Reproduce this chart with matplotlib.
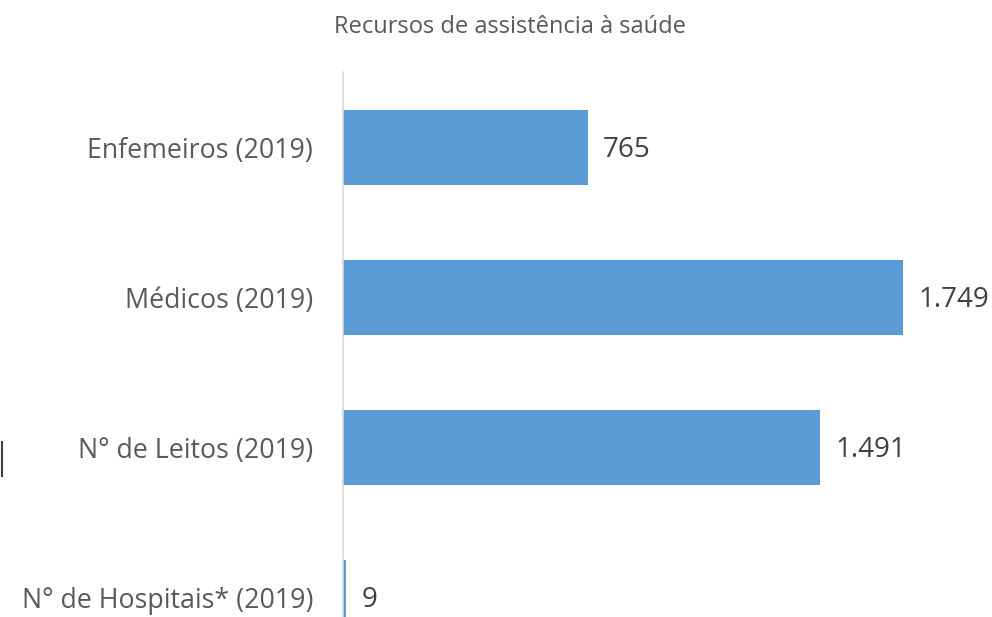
import matplotlib.pyplot as plt
from matplotlib.lines import Line2D

plt.rcParams['font.family'] = ['Open Sans', 'DejaVu Sans']

categorias = ["N° de Hospitais* (2019)", "N° de Leitos (2019)", "Médicos (2019)", "Enfemeiros (2019)"]
valores = [9, 1491, 1749, 765]
rotulos = ["9", "1.491", "1.749", "765"]
titulo = "Recursos de assistência à saúde"

W, H = 992, 617
fig = plt.figure(figsize=(W / 100, H / 100), dpi=100)
ax = fig.add_axes([343 / W, 0, (903 - 343) / W, (H - 72) / H])

y = list(range(len(categorias)))
ax.barh(y, valores, height=0.5, color="#5B9BD5")
ax.set_xlim(0, 1749)
ax.set_ylim(-0.13, 3.503)

ax.set_yticks(y)
ax.set_yticklabels(categorias, fontsize=19.3, color="#595959")
ax.tick_params(axis="y", length=0, pad=21.6)
ax.set_xticks([])

for s in ["top", "right", "bottom"]:
    ax.spines[s].set_visible(False)
ax.spines["left"].set_color("#D9D9D9")
ax.spines["left"].set_linewidth(1.2)

for yi, v, t in zip(y, valores, rotulos):
    ax.annotate(t, (v, yi), xytext=(11, -2), textcoords="offset points",
                ha="left", va="center", fontsize=20, color="#404040")

fig.text(510 / W, 1 - 27 / H, titulo, ha="center", va="center", fontsize=17, color="#595959")

# small stray mark at the left edge
fig.add_artist(Line2D([1.5 / W, 1.5 / W], [1 - 442 / H, 1 - 476 / H], color="#404040", lw=1.5))

fig.savefig("out.png", dpi=100)
